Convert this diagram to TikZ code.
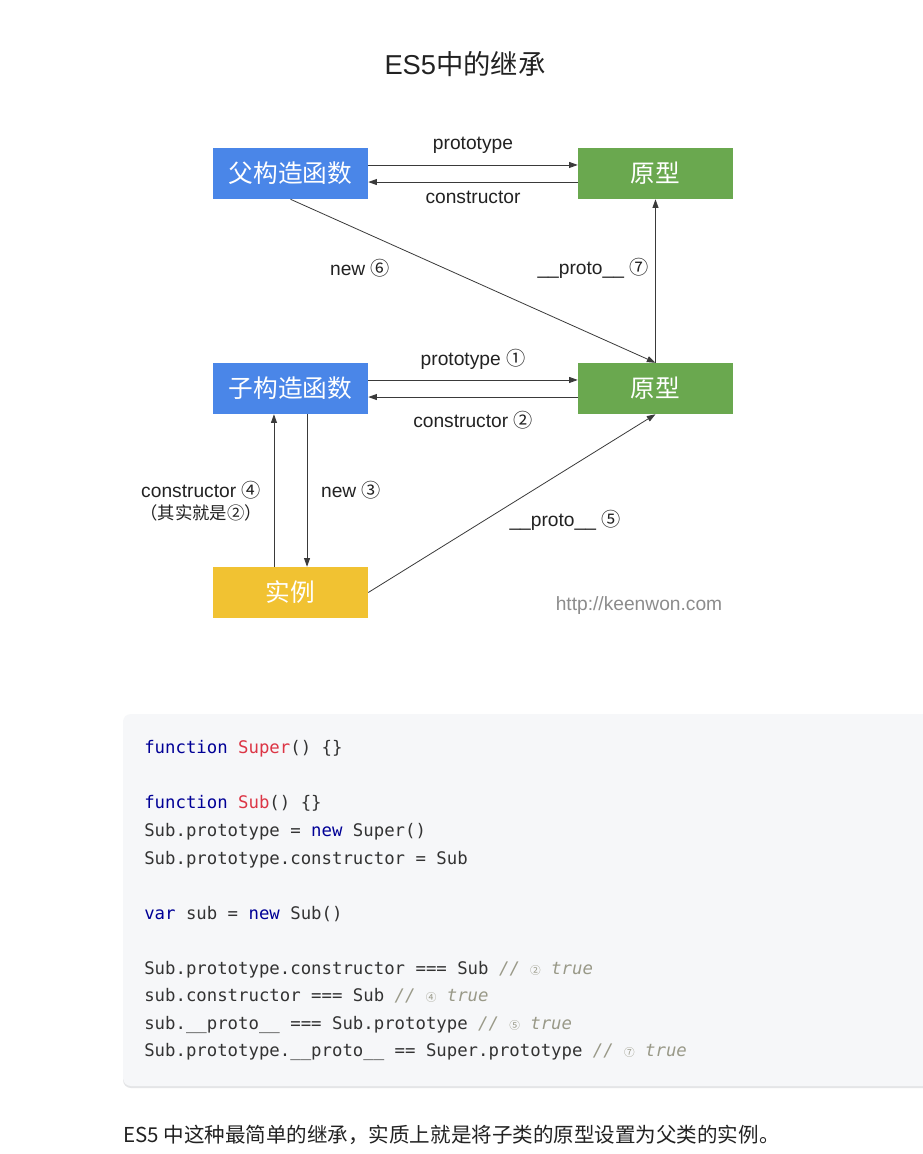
\documentclass[tikz,border=0pt]{standalone}
\usepackage{fontspec}
\setmainfont{Liberation Sans}
\newfontfamily\cjk{Noto Sans CJK SC}
\newfontfamily\codefont{DejaVu Sans Mono}
\usetikzlibrary{arrows.meta}
\definecolor{boxblue}{HTML}{4A86E8}
\definecolor{boxgreen}{HTML}{6AA84F}
\definecolor{boxyellow}{HTML}{F1C232}
\definecolor{linegray}{HTML}{3A3A3A}
\definecolor{codebg}{HTML}{F6F7F9}
\definecolor{codeshadow}{HTML}{E4E5E7}
\definecolor{kw}{HTML}{000096}
\definecolor{fn}{HTML}{DC3545}
\definecolor{cm}{HTML}{999988}
\definecolor{codetext}{HTML}{333333}
\definecolor{labeltext}{HTML}{222222}
\newcommand{\cn}[1]{{\cjk #1}}
\newcommand{\cmt}[1]{{\color{cm}\itshape // \makebox[7.8pt]{\cjk\fontsize{8pt}{8pt}\selectfont #1} true}}
\begin{document}
\begin{tikzpicture}[x=0.75pt,y=-0.75pt,
  box/.style={minimum width=116.25pt,minimum height=38.25pt,inner sep=0pt,text=white,
    font=\cjk\fontsize{18.5pt}{20pt}\selectfont},
  arr/.style={draw=linegray,line width=0.6pt,-{Triangle[length=6.5pt,width=4.5pt]}},
  lbl/.style={text=labeltext,font=\fontsize{14.4pt}{17pt}\selectfont,inner sep=0pt},
  code/.style={anchor=base west,inner sep=0pt,text=codetext,font=\codefont\fontsize{13pt}{15pt}\selectfont}]
\useasboundingbox (0,0) rectangle (923,1154);
\fill[white] (0,0) rectangle (923,1154);
% title
\node[text=labeltext,font=\fontsize{20.5pt}{24pt}\selectfont] (title) at (465,64) {ES5{\cjk 中的继承}};
% boxes
\node[box,fill=boxblue] (fu) at (290.5,173.5) {父构造函数};
\node[box,fill=boxgreen] (yt) at (655.5,173.5) {原型};
\node[box,fill=boxblue] (zi) at (290.5,388.5) {子构造函数};
\node[box,fill=boxgreen] (yb) at (655.5,388.5) {原型};
\node[box,fill=boxyellow] (sl) at (290.5,592.5) {实例};
% connectors
\draw[arr] ([yshift=6.4pt]fu.east) -- ([yshift=6.4pt]yt.west);
\draw[arr] ([yshift=-6.4pt]yt.west) -- ([yshift=-6.4pt]fu.east);
\draw[arr] ([yshift=6.4pt]zi.east) -- ([yshift=6.4pt]yb.west);
\draw[arr] ([yshift=-6.4pt]yb.west) -- ([yshift=-6.4pt]zi.east);
\draw[arr] (fu.south) -- (yb.north);
\draw[arr] (yb.north) -- (yt.south);
\draw[arr] ([xshift=-12.4pt]sl.north) -- ([xshift=-12.4pt]zi.south);
\draw[arr] ([xshift=12.4pt]zi.south) -- ([xshift=12.4pt]sl.north);
\draw[arr] (sl.east) -- (yb.south);
% labels
\node[lbl] (lp0) at (473,145) {prototype};
\node[lbl] (lc0) at (473,197) {constructor};
\node[lbl] (ln6) at (360,268) {new \cn{⑥}};
\node[lbl] (lp7) at (593,268) {\_\_proto\_\_ \cn{⑦}};
\node[lbl] (lp1) at (473,359) {prototype \cn{①}};
\node[lbl] (lc2) at (473,420) {constructor \cn{②}};
\node[lbl] (lc4) at (201,490) {constructor \cn{④}};
\node[lbl,font=\cjk\fontsize{13pt}{15pt}\selectfont] (lc4b) at (201,513) {（其实就是②）};
\node[lbl] (ln3) at (351,490) {new \cn{③}};
\node[lbl] (lp5) at (565,520) {\_\_proto\_\_ \cn{⑤}};
\node[lbl,text=black!45] (url) at (639,606) {http://keenwon.com};
% code block
\fill[codeshadow,rounded corners=6pt] (123,716) rectangle (940,1088);
\fill[codebg,rounded corners=6pt] (123,714) rectangle (940,1086);
\node[code] (c1) at (144,753) {{\color{kw}function} {\color{fn}Super}() \{\}};
\node[code] (c2) at (144,808) {{\color{kw}function} {\color{fn}Sub}() \{\}};
\node[code] (c3) at (144,836) {Sub.prototype = {\color{kw}new} Super()};
\node[code] (c4) at (144,864) {Sub.prototype.constructor = Sub};
\node[code] (c5) at (144,919) {{\color{kw}var} sub = {\color{kw}new} Sub()};
\node[code] (c6) at (144,974) {Sub.prototype.constructor === Sub \cmt{②}};
\node[code] (c7) at (144,1001) {sub.constructor === Sub \cmt{④}};
\node[code] (c8) at (144,1029) {sub.\_\_proto\_\_ === Sub.prototype \cmt{⑤}};
\node[code] (c9) at (144,1056) {Sub.prototype.\_\_proto\_\_ == Super.prototype \cmt{⑦}};
% bottom text
\node[anchor=base west,inner sep=0pt,text=labeltext,font=\cjk\fontsize{15.4pt}{18pt}\selectfont] (bt) at (123,1142) {ES5 中这种最简单的继承，实质上就是将子类的原型设置为父类的实例。};
\end{tikzpicture}
\end{document}
